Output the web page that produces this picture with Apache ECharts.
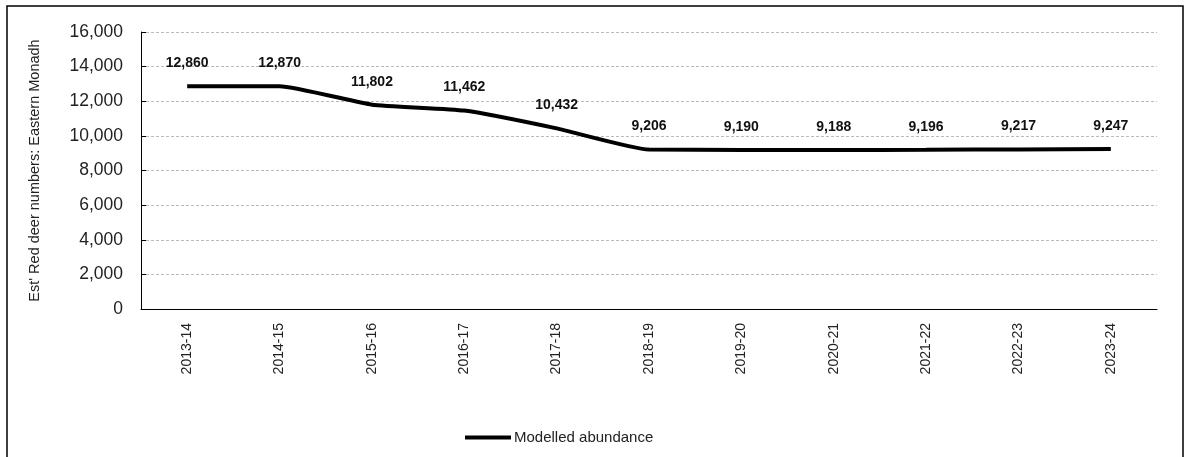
<!DOCTYPE html>
<html>
<head>
<meta charset="utf-8">
<script src="https://cdn.jsdelivr.net/npm/echarts@6/dist/echarts.min.js"></script>
<style>
  html, body { margin: 0; padding: 0; background: #fff; }
  #chart { width: 1186px; height: 457px; }
</style>
</head>
<body>
<div id="chart"></div>
<script>
// Red deer population estimates, Eastern Monadh
const seasons = ['2013-14', '2014-15', '2015-16', '2016-17', '2017-18', '2018-19',
                 '2019-20', '2020-21', '2021-22', '2022-23', '2023-24'];
const abundance = [12860, 12870, 11802, 11462, 10432, 9206, 9190, 9188, 9196, 9217, 9247];
const seriesName = 'Modelled abundance';
const yAxisTitle = "Est' Red deer numbers: Eastern Monadh";

const fmt = v => v.toLocaleString('en-GB');
const font = 'Arial, "Liberation Sans", sans-serif';

const chart = echarts.init(document.getElementById('chart'), null, { renderer: 'canvas' });
chart.setOption({
  animation: false,
  backgroundColor: '#fff',
  graphic: [{
    type: 'rect',
    shape: { x: 7, y: 6, width: 1176, height: 460 },
    style: { fill: 'none', stroke: '#000', lineWidth: 1.5 },
    silent: true
  }],
  grid: { left: 141, right: 29, top: 32, bottom: 148 },
  legend: {
    left: 460, top: 425,
    icon: 'rect', itemWidth: 46, itemHeight: 4, itemGap: 10,
    textStyle: { fontFamily: font, fontSize: 15, color: '#222', padding: [0, 0, 0, -2] },
    data: [seriesName]
  },
  xAxis: {
    type: 'category',
    data: seasons,
    boundaryGap: true,
    axisLine: { lineStyle: { color: '#000', width: 1 } },
    axisTick: { inside: true, length: 5, lineStyle: { color: '#000' } },
    axisLabel: {
      rotate: 90, margin: 14, fontFamily: font, fontSize: 14, color: '#222'
    }
  },
  yAxis: {
    type: 'value',
    min: 0, max: 16000, interval: 2000,
    name: yAxisTitle,
    nameLocation: 'middle',
    nameGap: 99,
    nameTextStyle: { fontFamily: font, fontSize: 14.5, color: '#222' },
    axisLine: { show: true, lineStyle: { color: '#000', width: 1 } },
    axisTick: { show: true, inside: true, length: 5, lineStyle: { color: '#000' } },
    axisLabel: { formatter: fmt, fontFamily: font, fontSize: 17.5, color: '#222', margin: 18 },
    splitLine: { lineStyle: { color: '#bbb', type: [3, 2], width: 1 } }
  },
  series: [{
    name: seriesName,
    type: 'line',
    data: abundance,
    smooth: 0.15,
    showSymbol: true,
    symbol: 'circle',
    symbolSize: 0,
    itemStyle: { color: '#000' },
    lineStyle: { color: '#000', width: 4 },
    label: {
      show: true,
      position: 'top',
      distance: 16,
      formatter: p => fmt(p.value),
      fontFamily: font, fontSize: 14, fontWeight: 'bold', color: '#111'
    }
  }]
});
</script>
</body>
</html>
